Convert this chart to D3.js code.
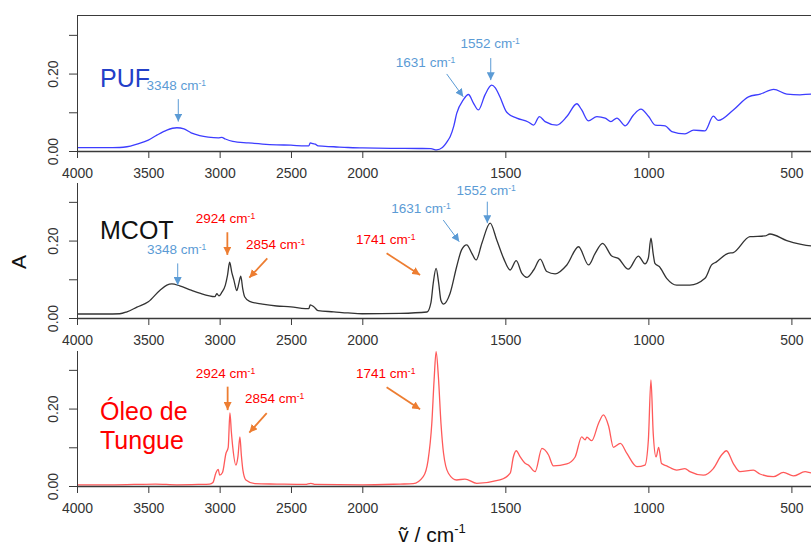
<!DOCTYPE html>
<html>
<head>
<meta charset="utf-8">
<title>FTIR PUF / MCOT / Oleo de Tungue</title>
<script src="https://cdn.jsdelivr.net/npm/d3@7"></script>
<style>
  body { margin: 0; background: #fff; }
  svg { font-family: "Liberation Sans", Arial, sans-serif; }
  .axis path, .axis line { stroke: #3a3a3a; }
  .axis text { fill: #333; font-size: 14px; }
</style>
</head>
<body>
<svg id="chart" width="811" height="553"></svg>
<script>
// wavenumber (cm-1), absorbance
var pufSpectrum = [
  [4000,0.0085],[3800,0.0085],[3700,0.009],[3650,0.011],[3580,0.018],[3500,0.028],[3440,0.041],
  [3370,0.054],[3300,0.060],[3250,0.057],[3200,0.047],[3140,0.040],[3080,0.036],[3010,0.034],
  [2985,0.035],[2960,0.031],[2908,0.025],[2800,0.021],[2700,0.018],[2600,0.016],[2500,0.015],
  [2400,0.013],[2375,0.013],[2365,0.021],[2345,0.019],[2330,0.018],[2310,0.013],[2200,0.011],
  [2100,0.009],[2000,0.008],[1900,0.007],[1800,0.0065],[1760,0.006],[1740,0.003],[1720,0.009],
  [1700,0.028],[1693,0.037],[1680,0.065],[1670,0.097],[1647,0.132],[1629,0.146],[1611,0.123],
  [1594,0.106],[1571,0.145],[1548,0.170],[1535,0.163],[1519,0.140],[1495,0.100],[1460,0.085],
  [1420,0.075],[1401,0.067],[1381,0.089],[1361,0.076],[1320,0.067],[1285,0.089],[1250,0.122],
  [1233,0.106],[1210,0.078],[1180,0.089],[1151,0.085],[1131,0.076],[1110,0.085],[1081,0.065],
  [1052,0.093],[1026,0.108],[999,0.089],[976,0.067],[941,0.065],[918,0.050],[872,0.044],
  [842,0.054],[802,0.052],[773,0.090],[755,0.079],[703,0.106],[650,0.140],[609,0.147],
  [562,0.159],[516,0.147],[470,0.145],[430,0.147],[400,0.146]
];
var mcotSpectrum = [
  [4000,0.0103],[3800,0.0103],[3700,0.011],[3650,0.016],[3580,0.028],[3500,0.042],[3418,0.072],
  [3370,0.085],[3335,0.088],[3280,0.083],[3200,0.072],[3140,0.064],[3034,0.055],[3020,0.063],
  [3005,0.057],[2985,0.066],[2960,0.085],[2945,0.110],[2930,0.144],[2915,0.118],[2900,0.098],
  [2880,0.071],[2865,0.090],[2852,0.108],[2838,0.075],[2825,0.055],[2790,0.043],[2700,0.036],
  [2600,0.031],[2500,0.029],[2400,0.024],[2375,0.024],[2365,0.034],[2340,0.029],[2310,0.019],
  [2200,0.016],[2100,0.013],[2000,0.011],[1868,0.012],[1774,0.0155],[1760,0.040],[1752,0.090],
  [1742,0.128],[1733,0.090],[1725,0.045],[1716,0.036],[1693,0.064],[1670,0.133],[1653,0.176],
  [1635,0.189],[1617,0.167],[1602,0.150],[1582,0.193],[1553,0.245],[1530,0.2015],[1506,0.154],
  [1483,0.124],[1462,0.148],[1442,0.115],[1425,0.105],[1401,0.124],[1378,0.152],[1355,0.120],
  [1326,0.114],[1285,0.137],[1244,0.184],[1209,0.137],[1186,0.167],[1160,0.193],[1128,0.160],
  [1105,0.154],[1070,0.126],[1035,0.160],[1012,0.140],[1000,0.155],[991,0.206],[983,0.165],
  [977,0.141],[962,0.133],[936,0.1025],[901,0.085],[855,0.085],[802,0.1025],[779,0.137],
  [762,0.145],[721,0.167],[703,0.169],[645,0.210],[592,0.212],[575,0.217],[516,0.200],
  [470,0.191],[430,0.186],[400,0.185]
];
var oleoSpectrum = [
  [4000,0.003],[3800,0.003],[3600,0.004],[3450,0.005],[3300,0.003],[3150,0.004],[3070,0.005],
  [3047,0.009],[3027,0.033],[3010,0.043],[3000,0.028],[2980,0.035],[2956,0.084],[2940,0.100],
  [2928,0.189],[2918,0.140],[2908,0.100],[2886,0.054],[2872,0.075],[2858,0.127],[2848,0.080],
  [2837,0.041],[2816,0.0155],[2753,0.006],[2600,0.005],[2400,0.004],[2360,0.007],[2330,0.004],
  [2000,0.003],[1868,0.005],[1822,0.006],[1787,0.024],[1770,0.067],[1757,0.162],[1749,0.274],
  [1742,0.347],[1734,0.282],[1725,0.162],[1716,0.0845],[1699,0.033],[1670,0.0155],[1641,0.018],
  [1600,0.007],[1519,0.0155],[1483,0.033],[1472,0.075],[1462,0.091],[1448,0.075],[1431,0.0585],
  [1419,0.054],[1396,0.037],[1372,0.097],[1349,0.080],[1332,0.052],[1285,0.057],[1256,0.075],
  [1233,0.127],[1221,0.119],[1215,0.126],[1198,0.117],[1174,0.162],[1157,0.1835],[1139,0.155],
  [1122,0.100],[1098,0.110],[1075,0.084],[1040,0.050],[1012,0.054],[1000,0.119],[991,0.274],
  [983,0.136],[973,0.075],[964,0.100],[954,0.058],[936,0.052],[901,0.041],[872,0.045],
  [855,0.037],[808,0.028],[773,0.045],[744,0.080],[727,0.091],[703,0.058],[680,0.037],
  [633,0.041],[610,0.031],[563,0.024],[528,0.035],[493,0.026],[452,0.037],[430,0.034],[400,0.033]
];

var xTicks = [4000, 3500, 3000, 2500, 2000, 1500, 1000, 500];
var yTicks = [0, 0.1, 0.2, 0.3];
var yLabelled = [0, 0.2];

// peak labels: text position and arrow (from -> to), in wavenumber / absorbance units
var pufNotes = [
  {t: "3348", lx: 3304, ly: 0.158, x1: 3290, y1: 0.134, x2: 3290, y2: 0.076, c: "#5b9bd5", ac: "#5b9bd5", w: 1},
  {t: "1631", lx: 1779, ly: 0.218, x1: 1705, y1: 0.199, x2: 1647, y2: 0.140, c: "#5b9bd5", ac: "#5b9bd5", w: 1},
  {t: "1552", lx: 1553, ly: 0.265, x1: 1551, y1: 0.240, x2: 1551, y2: 0.183, c: "#5b9bd5", ac: "#5b9bd5", w: 1}
];
var mcotNotes = [
  {t: "3348", lx: 3302, ly: 0.165, x1: 3294, y1: 0.141, x2: 3294, y2: 0.085, c: "#5b9bd5", ac: "#5b9bd5", w: 1},
  {t: "2924", lx: 2959, ly: 0.245, x1: 2946, y1: 0.2215, x2: 2946, y2: 0.163, c: "#ff0000", ac: "#ed7d31", w: 1.8},
  {t: "2854", lx: 2608, ly: 0.1775, x1: 2666, y1: 0.154, x2: 2792, y2: 0.104, c: "#ff0000", ac: "#ed7d31", w: 1.8},
  {t: "1741", lx: 1918, ly: 0.190, x1: 1915, y1: 0.167, x2: 1798, y2: 0.111, c: "#ff0000", ac: "#ed7d31", w: 1.8},
  {t: "1631", lx: 1795, ly: 0.272, x1: 1717, y1: 0.253, x2: 1661, y2: 0.197, c: "#5b9bd5", ac: "#5b9bd5", w: 1},
  {t: "1552", lx: 1567, ly: 0.318, x1: 1563, y1: 0.3005, x2: 1563, y2: 0.245, c: "#5b9bd5", ac: "#5b9bd5", w: 1}
];
var oleoNotes = [
  {t: "2924", lx: 2959, ly: 0.278, x1: 2944, y1: 0.2566, x2: 2944, y2: 0.196, c: "#ff0000", ac: "#ed7d31", w: 1.8},
  {t: "2854", lx: 2615, ly: 0.214, x1: 2670, y1: 0.188, x2: 2792, y2: 0.138, c: "#ff0000", ac: "#ed7d31", w: 1.8},
  {t: "1741", lx: 1918, ly: 0.280, x1: 1915, y1: 0.255, x2: 1798, y2: 0.198, c: "#ff0000", ac: "#ed7d31", w: 1.8}
];

var svg = d3.select("#chart");

// FTIR style axis: 4000-2000 compressed, below 2000 doubled
var x = d3.scaleLinear().domain([4000, 2000, 400]).range([77, 362.3, 820]);

var panels = [
  {data: pufSpectrum, base: 151, color: "#3d3dff", name: ["PUF"], nameColor: "#2340c8", notes: pufNotes, frame: true},
  {data: mcotSpectrum, base: 318, color: "#333333", name: ["MCOT"], nameColor: "#111111", notes: mcotNotes, frame: false},
  {data: oleoSpectrum, base: 486, color: "#ff5a5a", name: ["Óleo de", "Tungue"], nameColor: "#ff0000", notes: oleoNotes, frame: false}
];

var defs = svg.append("defs");
function marker(id, col, size) {
  defs.append("marker")
    .attr("id", id).attr("viewBox", "0 0 10 10")
    .attr("refX", 10).attr("refY", 5)
    .attr("markerUnits", "userSpaceOnUse")
    .attr("markerWidth", size).attr("markerHeight", size)
    .attr("orient", "auto")
    .append("path").attr("d", "M0,0L10,5L0,10Z").attr("fill", col);
}
marker("arrBlue", "#5b9bd5", 8);
marker("arrOrange", "#ed7d31", 8);

panels.forEach(function (p, i) {
  var y = d3.scaleLinear().domain([0, 0.35]).range([p.base, p.base - 135.5]);
  var g = svg.append("g");

  if (p.frame) {
    g.append("line")
      .attr("x1", x(4000)).attr("x2", 811)
      .attr("y1", y(0.35)).attr("y2", y(0.35))
      .attr("stroke", "#3a3a3a").attr("stroke-width", 1.2);
  }

  // spectrum
  g.append("path")
    .datum(p.data)
    .attr("fill", "none")
    .attr("stroke", p.color)
    .attr("stroke-width", 1.3)
    .attr("d", d3.line().x(function (d) { return x(d[0]); }).y(function (d) { return y(d[1]); })
      .curve(d3.curveMonotoneX));

  // x axis
  var xa = g.append("g").attr("class", "axis")
    .attr("transform", "translate(0," + p.base + ")")
    .call(d3.axisBottom(x).tickValues(xTicks).tickSize(7).tickSizeOuter(0).tickPadding(10).tickFormat(d3.format("d")));
  xa.select(".domain").attr("stroke-width", 1.3);

  // y axis
  var ya = g.append("g").attr("class", "axis")
    .attr("transform", "translate(" + x(4000) + ",0)")
    .call(d3.axisLeft(y).tickValues(yTicks).tickSize(8).tickSizeOuter(0)
      .tickFormat(function (d) { return yLabelled.indexOf(d) >= 0 ? d3.format(".2f")(d) : ""; }));
  ya.selectAll(".tick text")
    .attr("x", null).attr("dy", null)
    .attr("text-anchor", "middle")
    .attr("transform", "translate(-19,0) rotate(-90)");

  // sample name
  p.name.forEach(function (line, k) {
    g.append("text")
      .attr("x", 100).attr("y", p.base - 64.5 + (i === 2 ? -1.5 + k * 28.5 : 0) + (i === 1 ? -15 : 0))
      .attr("font-size", 25).attr("fill", p.nameColor)
      .text(line);
  });

  // annotations
  p.notes.forEach(function (n) {
    var t = g.append("text")
      .attr("x", x(n.lx)).attr("y", y(n.ly))
      .attr("text-anchor", "middle")
      .attr("font-size", 13.5).attr("fill", n.c);
    t.append("tspan").text(n.t + " cm");
    t.append("tspan").attr("font-size", 8.5).attr("dy", -4).text("-1");
    g.append("line")
      .attr("x1", x(n.x1)).attr("y1", y(n.y1))
      .attr("x2", x(n.x2)).attr("y2", y(n.y2))
      .attr("stroke", n.ac).attr("stroke-width", n.w)
      .attr("marker-end", n.ac === "#ed7d31" ? "url(#arrOrange)" : "url(#arrBlue)");
  });
});

// axis titles
svg.append("text")
  .attr("transform", "translate(26,262) rotate(-90)")
  .attr("text-anchor", "middle")
  .attr("font-size", 21).attr("fill", "#111")
  .text("A");

var xt = svg.append("text")
  .attr("x", 432).attr("y", 542)
  .attr("text-anchor", "middle")
  .attr("font-size", 21).attr("fill", "#111");
xt.append("tspan").text("ṽ / cm");
xt.append("tspan").attr("font-size", 13).attr("dy", -9).text("-1");
</script>
</body>
</html>
